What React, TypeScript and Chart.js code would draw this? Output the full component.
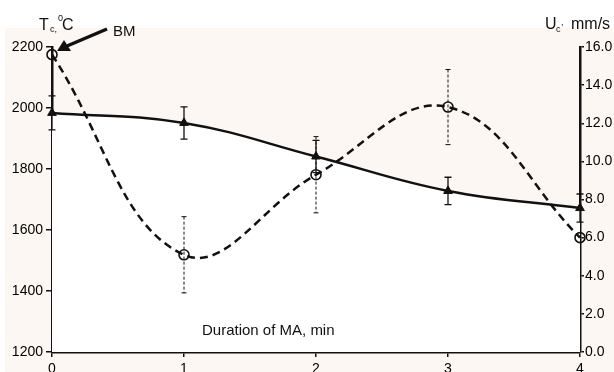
import React, { useEffect, useRef } from "react";
import { Chart, registerables } from "chart.js";

Chart.register(...registerables);

// ---- data ----
const durations = [0, 1, 2, 3, 4];
const tempValues = [1984, 1951, 1841, 1728, 1672];
const tempErrors = [56, 53, 53, 45, 46];
const speedValues = [15.6, 5.1, 9.3, 12.85, 6.0];
const speedErrors = [0, 2.0, 2.0, 1.97, 0];
const tempTicks = [1200, 1400, 1600, 1800, 2000, 2200];
const speedTicks = [0, 2, 4, 6, 8, 10, 12, 14, 16];
const xTicks = [0, 1, 2, 3, 4];

const FONT = "'Liberation Sans', Arial, sans-serif";
const CREAM = "#fcf7f2";

const backgroundPlugin = {
  id: "bgPlugin",
  beforeDraw(chart: any) {
    const ctx = chart.ctx;
    ctx.save();
    ctx.fillStyle = "#ffffff";
    ctx.fillRect(0, 0, chart.width, chart.height);
    ctx.fillStyle = CREAM;
    ctx.fillRect(5, 28, chart.width - 5, chart.height - 28);
    ctx.restore();
  },
};

const errorBarPlugin = {
  id: "errorBars",
  afterDatasetsDraw(chart: any) {
    const ctx = chart.ctx;
    const xs = chart.scales.x;
    const drawBars = (
      vals: number[],
      errs: number[],
      scale: any,
      dashed: boolean
    ) => {
      ctx.save();
      ctx.strokeStyle = "#111";
      ctx.lineWidth = dashed ? 1 : 1.3;
      for (let i = 0; i < vals.length; i++) {
        if (!errs[i]) continue;
        const px = xs.getPixelForValue(durations[i]);
        const top = scale.getPixelForValue(vals[i] + errs[i]);
        const bot = scale.getPixelForValue(vals[i] - errs[i]);
        const cap = dashed ? 2.5 : 3.5;
        ctx.setLineDash(dashed ? [3, 2] : []);
        ctx.beginPath();
        ctx.moveTo(px, top);
        ctx.lineTo(px, bot);
        ctx.stroke();
        ctx.setLineDash([]);
        ctx.beginPath();
        ctx.moveTo(px - cap, top);
        ctx.lineTo(px + cap, top);
        ctx.moveTo(px - cap, bot);
        ctx.lineTo(px + cap, bot);
        ctx.stroke();
      }
      ctx.restore();
    };
    drawBars(tempValues, tempErrors, chart.scales.y, false);
    drawBars(speedValues, speedErrors, chart.scales.y2, true);
  },
};

const labelsPlugin = {
  id: "labels",
  afterDraw(chart: any) {
    const ctx = chart.ctx;
    ctx.save();
    ctx.fillStyle = "#111";
    ctx.textBaseline = "alphabetic";
    ctx.textAlign = "left";
    // left axis title
    ctx.font = `16px ${FONT}`;
    ctx.fillText("T", 39, 30);
    ctx.font = `9px ${FONT}`;
    ctx.fillText("c,", 50, 32);
    ctx.fillText("0", 58, 21);
    ctx.font = `16px ${FONT}`;
    ctx.fillText("C", 62, 30);
    // BM label
    ctx.font = `15px ${FONT}`;
    ctx.fillText("BM", 113, 36);
    // arrow
    ctx.strokeStyle = "#111";
    ctx.lineWidth = 3.5;
    ctx.beginPath();
    ctx.moveTo(107, 29);
    ctx.lineTo(67, 46);
    ctx.stroke();
    ctx.beginPath();
    ctx.moveTo(57, 51);
    ctx.lineTo(64, 40);
    ctx.lineTo(71, 51);
    ctx.closePath();
    ctx.fill();
    // right axis title
    ctx.font = `16px ${FONT}`;
    ctx.fillText("U", 545, 29);
    ctx.font = `9px ${FONT}`;
    ctx.fillText("c", 556, 32);
    ctx.fillText(",", 561, 25);
    ctx.font = `16px ${FONT}`;
    ctx.fillText("mm/s", 571, 29);
    // x axis title
    ctx.font = `15px ${FONT}`;
    ctx.fillText("Duration of MA, min", 202, 335);
    ctx.restore();
  },
};

export default function App() {
  const ref = useRef<HTMLCanvasElement | null>(null);

  useEffect(() => {
    if (!ref.current) return;
    const tickFont = { family: FONT, size: 14 };
    const chart = new Chart(ref.current, {
      type: "line",
      data: {
        datasets: [
          {
            label: "Tc",
            data: durations.map((d, i) => ({ x: d, y: tempValues[i] })),
            yAxisID: "y",
            borderColor: "#111",
            borderWidth: 2.5,
            backgroundColor: "#ffffff",
            fill: "start",
            tension: 0.4,
            pointStyle: "triangle",
            pointRadius: 5,
            pointBackgroundColor: "#111",
            pointBorderColor: "#111",
            pointBorderWidth: 1,
            clip: false as any,
          },
          {
            label: "Uc",
            data: durations.map((d, i) => ({ x: d, y: speedValues[i] })),
            yAxisID: "y2",
            borderColor: "#111",
            borderWidth: 2.5,
            borderDash: [8, 5],
            fill: false,
            tension: 0.4,
            pointStyle: "circle",
            pointRadius: 5,
            pointBackgroundColor: "rgba(0,0,0,0)",
            pointBorderColor: "#111",
            pointBorderWidth: 1.6,
            clip: false as any,
          },
        ],
      },
      options: {
        responsive: false,
        animation: false,
        devicePixelRatio: 1,
        layout: { padding: { top: 47, left: 0, right: 0, bottom: 0 } },
        plugins: {
          legend: { display: false },
          tooltip: { enabled: false },
          filler: { drawTime: "beforeDatasetsDraw" },
        },
        scales: {
          x: {
            type: "linear",
            min: 0,
            max: 4,
            afterBuildTicks: (s: any) => {
              s.ticks = xTicks.map((v) => ({ value: v }));
            },
            afterFit: (s: any) => {
              s.height = 20;
            },
            ticks: {
              autoSkip: false,
              font: tickFont,
              color: "#000",
              padding: 4,
              maxRotation: 0,
            },
            grid: {
              drawOnChartArea: false,
              drawTicks: true,
              tickLength: 5,
              color: "#111",
              lineWidth: 1.5,
            },
            border: { color: "#111", width: 2.5 },
          },
          y: {
            type: "linear",
            position: "left",
            min: 1200,
            max: 2200,
            afterBuildTicks: (s: any) => {
              s.ticks = tempTicks.map((v) => ({ value: v }));
            },
            afterFit: (s: any) => {
              s.width = 52;
            },
            ticks: {
              font: tickFont,
              color: "#000",
              padding: 3,
              callback: (v: any) => String(v),
            },
            grid: {
              drawOnChartArea: false,
              drawTicks: true,
              tickLength: 6,
              color: "#111",
              lineWidth: 1.5,
            },
            border: { color: "#111", width: 2.5 },
          },
          y2: {
            type: "linear",
            position: "right",
            min: 0,
            max: 16,
            afterBuildTicks: (s: any) => {
              s.ticks = speedTicks.map((v) => ({ value: v }));
            },
            afterFit: (s: any) => {
              s.width = 34;
            },
            ticks: {
              font: tickFont,
              color: "#000",
              padding: 1,
              callback: (v: any) => Number(v).toFixed(1),
            },
            grid: {
              drawOnChartArea: false,
              drawTicks: true,
              tickLength: 4,
              color: "#111",
              lineWidth: 1.5,
            },
            border: { color: "#111", width: 2.5 },
          },
        },
      },
      plugins: [backgroundPlugin, errorBarPlugin, labelsPlugin],
    } as any);
    return () => chart.destroy();
  }, []);

  return (
    <div style={{ position: "absolute", left: 0, top: 0, width: 614, height: 372 }}>
      <canvas ref={ref} width={614} height={372} style={{ width: 614, height: 372, display: "block" }} />
    </div>
  );
}
